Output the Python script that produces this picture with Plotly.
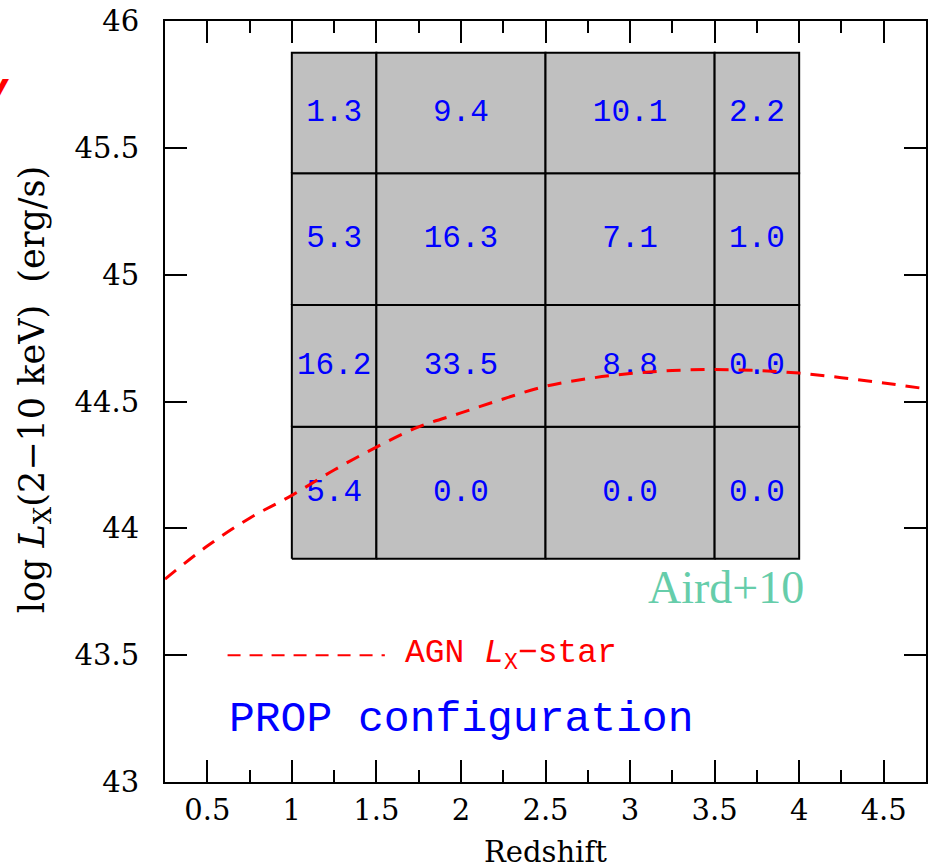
import plotly.graph_objects as go

# ---- data ----
x_edges = [1.0, 1.5, 2.5, 3.5, 4.0]
y_edges = [43.88, 44.40, 44.88, 45.40, 45.875]
# fractions (%) per cell, rows from bottom to top, columns low-z to high-z
cell_values = [
    [5.4, 0.0, 0.0, 0.0],
    [16.2, 33.5, 8.8, 0.0],
    [5.3, 16.3, 7.1, 1.0],
    [1.3, 9.4, 10.1, 2.2],
]
curve_z = [0.25, 0.5, 0.75, 1.0, 1.25, 1.5, 1.75, 2.0, 2.25, 2.5, 2.75,
           3.0, 3.25, 3.5, 3.75, 4.0, 4.25, 4.5, 4.75]
curve_lx = [43.80, 43.93, 44.04, 44.13, 44.23, 44.32, 44.40, 44.455, 44.51,
            44.56, 44.59, 44.61, 44.622, 44.626, 44.622, 44.612, 44.594, 44.573, 44.55]
x_ticks = [0.5, 1, 1.5, 2, 2.5, 3, 3.5, 4, 4.5]
x_ticklabels = ["0.5", "1", "1.5", "2", "2.5", "3", "3.5", "4", "4.5"]
y_ticks = [43, 43.5, 44, 44.5, 45, 45.5, 46]
y_ticklabels = ["43", "43.5", "44", "44.5", "45", "45.5", "46"]

GRAY = "#c0c0c0"
BLUE = "#0000ff"
RED = "#ff0000"
GREEN = "#66cdaa"
SERIF = "DejaVu Serif"
MONO = "Liberation Mono"

fig = go.Figure()

# grid cells
for i in range(len(y_edges) - 1):
    for j in range(len(x_edges) - 1):
        x0, x1 = x_edges[j], x_edges[j + 1]
        y0, y1 = y_edges[i], y_edges[i + 1]
        fig.add_trace(go.Scatter(
            x=[x0, x1, x1, x0, x0], y=[y0, y0, y1, y1, y0],
            mode="lines", fill="toself", fillcolor=GRAY,
            line=dict(color="black", width=2),
            hoverinfo="skip", showlegend=False))

# cell labels
tx, ty, tt = [], [], []
for i in range(len(y_edges) - 1):
    for j in range(len(x_edges) - 1):
        tx.append((x_edges[j] + x_edges[j + 1]) / 2)
        ty.append((y_edges[i] + y_edges[i + 1]) / 2)
        tt.append(f"{cell_values[i][j]:.1f}")
fig.add_trace(go.Scatter(
    x=tx, y=ty, text=tt, mode="text",
    textfont=dict(family=MONO, size=31, color=BLUE),
    hoverinfo="skip", showlegend=False))

# AGN Lx-star curve
fig.add_trace(go.Scatter(
    x=curve_z, y=curve_lx, mode="lines", line_shape="spline",
    line=dict(color=RED, width=3, dash="14px,10px"),
    showlegend=False, hoverinfo="skip"))

# legend sample line (decoration)
fig.add_shape(type="line", xref="x", yref="y", x0=0.62, x1=1.55, y0=43.5, y1=43.5,
              line=dict(color=RED, width=2, dash="13px,9px"))

annotations = [
    dict(x=1.655, y=43.5, xref="x", yref="y", xanchor="left", yanchor="middle",
         text="AGN <i>L</i><sub>X</sub>−star", showarrow=False,
         font=dict(family=MONO, size=33, color=RED)),
    dict(x=0.615, y=43.245, xref="x", yref="y", xanchor="left", yanchor="middle",
         text="PROP configuration", showarrow=False,
         font=dict(family=MONO, size=43, color=BLUE)),
    dict(x=3.57, y=43.765, xref="x", yref="y", xanchor="center", yanchor="middle",
         text="Aird+10", showarrow=False,
         font=dict(family="Liberation Serif", size=46, color=GREEN)),
    dict(x=-0.172, y=0.515, xref="paper", yref="paper", xanchor="center", yanchor="middle",
         text="log <i>L</i><sub>X</sub>(2−10 keV)  (erg/s)", textangle=-90, showarrow=False,
         font=dict(family=SERIF, size=35, color="black")),
    dict(x=0.5, y=-0.092, xref="paper", yref="paper", xanchor="center", yanchor="middle",
         text="Redshift", showarrow=False,
         font=dict(family=SERIF, size=29, color="black")),
    dict(x=-0.203, y=0.905, xref="paper", yref="paper", xanchor="right", yanchor="middle",
         text="<b><i>V</i></b>", showarrow=False,
         font=dict(family="Liberation Sans", size=42, color=RED)),
]

axis_common = dict(
    showgrid=False, zeroline=False, showline=True, linecolor="black", linewidth=2,
    mirror="allticks", ticks="inside", ticklen=22, tickwidth=2, tickcolor="black",
    tickfont=dict(family=SERIF, size=29, color="black"),
)

fig.update_layout(
    width=932, height=868,
    margin=dict(l=165, r=4, t=18, b=86),
    paper_bgcolor="white", plot_bgcolor="white",
    xaxis=dict(range=[0.25, 4.75], tickmode="array", tickvals=x_ticks,
               ticktext=x_ticklabels, ticklabelstandoff=1,
               minor=dict(dtick=0.25, tick0=0.25, ticks="inside", ticklen=12,
                          tickwidth=2, tickcolor="black", showgrid=False),
               **axis_common),
    yaxis=dict(range=[43, 46], tickmode="array", tickvals=y_ticks,
               ticktext=y_ticklabels, ticklabelstandoff=18, **axis_common),
    annotations=annotations,
    showlegend=False,
)

fig.write_html("out.html")
